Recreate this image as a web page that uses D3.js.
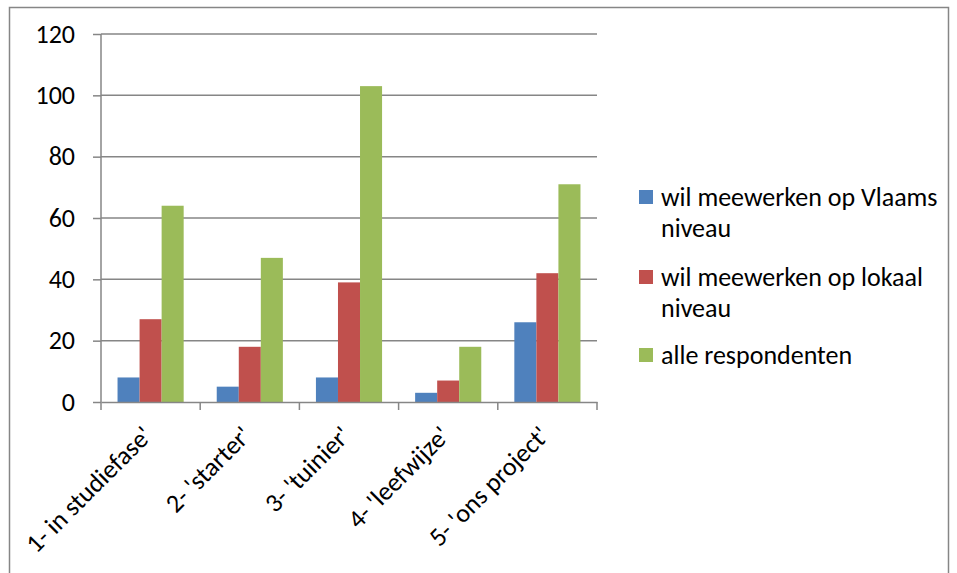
<!DOCTYPE html>
<html>
<head>
<meta charset="utf-8">
<script src="https://cdn.jsdelivr.net/npm/d3@7"></script>
<style>
  body { margin: 0; background: #fff; }
  text { font-family: Carlito, Lato, "Open Sans", sans-serif; fill: #000; }
</style>
</head>
<body>
<svg id="chart" width="957" height="573"></svg>
<script>
const categories = ["1- in studiefase'", "2- 'starter'", "3- 'tuinier'", "4- 'leefwijze'", "5- 'ons project'"];
const seriesNames = ["wil meewerken op Vlaams niveau", "wil meewerken op lokaal niveau", "alle respondenten"];
const legendLines = [["wil meewerken op Vlaams", "niveau"], ["wil meewerken op lokaal", "niveau"], ["alle respondenten"]];
const vlaams = [8, 5, 8, 3, 26];
const lokaal = [27, 18, 39, 7, 42];
const alle = [64, 47, 103, 18, 71];
const yTicks = [0, 20, 40, 60, 80, 100, 120];

const colors = ["#4F81BD", "#C0504D", "#9BBB59"];
const series = [vlaams, lokaal, alle];
const fontSize = 26;

const svg = d3.select("#chart");
const margin = { left: 101, right: 360, top: 34, bottom: 171 };
const width = 957 - margin.left - margin.right;
const height = 573 - margin.top - margin.bottom;

// outer frame
svg.append("rect")
  .attr("x", 9.5).attr("y", 7.5)
  .attr("width", 939).attr("height", 580)
  .attr("fill", "none").attr("stroke", "#868686").attr("stroke-width", 1.5);

const g = svg.append("g").attr("transform", `translate(${margin.left},${margin.top})`);

const x = d3.scaleBand().domain(categories).range([0, width]);
const x1 = d3.scaleBand().domain(d3.range(3)).range([0, x.bandwidth()]).paddingOuter(0.75).paddingInner(0);
const y = d3.scaleLinear().domain([0, 120]).range([height, 0]);

// gridlines
g.append("g")
  .selectAll("line")
  .data(yTicks.slice(1))
  .join("line")
  .attr("x1", 0).attr("x2", width)
  .attr("y1", d => y(d)).attr("y2", d => y(d))
  .attr("stroke", "#868686").attr("stroke-width", 1.5);

// bars
series.forEach((vals, i) => {
  g.append("g")
    .attr("fill", colors[i])
    .selectAll("rect")
    .data(vals)
    .join("rect")
    .attr("x", (d, j) => x(categories[j]) + x1(i))
    .attr("y", d => y(d))
    .attr("width", x1.bandwidth())
    .attr("height", d => height - y(d));
});

// y axis
const yAxis = g.append("g")
  .call(d3.axisLeft(y).tickValues(yTicks).tickSize(8).tickPadding(18));
yAxis.attr("font-size", null).attr("font-family", null);
yAxis.select(".domain").attr("stroke", "#868686").attr("stroke-width", 1.5).attr("d", `M0,${height}V0`);
yAxis.selectAll(".tick line").attr("stroke", "#868686").attr("stroke-width", 1.5);
yAxis.selectAll(".tick text").attr("font-size", fontSize).attr("fill", "#000");

// x axis
const xAxis = g.append("g")
  .attr("transform", `translate(0,${height})`)
  .call(d3.axisBottom(x).tickSize(0).tickFormat(""));
xAxis.select(".domain").attr("stroke", "#868686").attr("stroke-width", 1.5);
xAxis.selectAll(".boundary")
  .data(d3.range(categories.length + 1))
  .join("line")
  .attr("x1", d => d * x.step()).attr("x2", d => d * x.step())
  .attr("y1", 0).attr("y2", 8)
  .attr("stroke", "#868686").attr("stroke-width", 1.5);

g.append("g")
  .selectAll("text")
  .data(categories)
  .join("text")
  .attr("transform", d => `translate(${x(d) + x.bandwidth() / 2 + 3},${height + 35}) rotate(-45)`)
  .attr("text-anchor", "end")
  .attr("font-size", fontSize)
  .text(d => d);

// legend
const legend = svg.append("g").attr("transform", "translate(639,0)");
const legendY = [197, 277, 355];
legendLines.forEach((lines, i) => {
  legend.append("rect")
    .attr("x", 0).attr("y", legendY[i] - 7)
    .attr("width", 14).attr("height", 14)
    .attr("fill", colors[i]);
  legend.append("text")
    .attr("x", 22).attr("y", legendY[i] + 9)
    .attr("font-size", fontSize)
    .selectAll("tspan")
    .data(lines)
    .join("tspan")
    .attr("x", 22)
    .attr("dy", (d, k) => k === 0 ? 0 : 31)
    .text(d => d);
});
</script>
</body>
</html>
